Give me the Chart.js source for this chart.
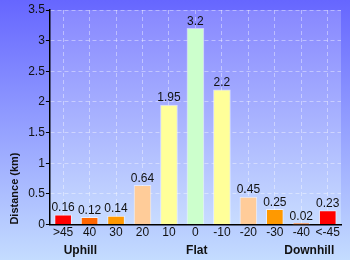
<!DOCTYPE html>
<html>
<head>
<meta charset="utf-8">
<script src="https://cdn.jsdelivr.net/npm/chart.js@4"></script>
<style>
  html, body { margin: 0; padding: 0; background: #fff; }
  #wrap { width: 350px; height: 260px; }
</style>
</head>
<body>
<div id="wrap"><canvas id="gradeChart"></canvas></div>
<script>
// gradient categories (percent) and distance per category
const grades = [">45", "40", "30", "20", "10", "0", "-10", "-20", "-30", "-40", "<-45"];
const distances = [0.16, 0.12, 0.14, 0.64, 1.95, 3.2, 2.2, 0.45, 0.25, 0.02, 0.23];
const barColors = ["#ff0000", "#ff6600", "#ff9900", "#ffcc99", "#ffff99", "#ccffcc",
                   "#ffff99", "#ffcc99", "#ff9900", "#ff6600", "#ff0000"];
const groupNames = ["Uphill", "Flat", "Downhill"];
const groupAt = [0.65, 5.05, 9.3];

// page + plot backgrounds
const backdrop = {
  id: "backdrop",
  beforeDraw(chart) {
    const { ctx, width, height, chartArea: a } = chart;
    ctx.save();
    let g = ctx.createLinearGradient(0, 0, 0, height);
    g.addColorStop(0, "#6666ff");
    g.addColorStop(1, "#c4dcff");
    ctx.fillStyle = g;
    ctx.fillRect(0, 0, width, height);
    g = ctx.createLinearGradient(0, a.top, 0, a.bottom);
    g.addColorStop(0, "#8888ff");
    g.addColorStop(1, "#c8dcff");
    ctx.fillStyle = g;
    ctx.fillRect(a.left, a.top, a.right - a.left, a.bottom - a.top);
    ctx.restore();
  }
};

// value over each bar + group names under the axis
const labels = {
  id: "labels",
  afterDatasetsDraw(chart) {
    const { ctx } = chart;
    const meta = chart.getDatasetMeta(0);
    ctx.save();
    ctx.fillStyle = "#111";
    ctx.font = "12px 'Liberation Sans', Arial, sans-serif";
    ctx.textAlign = "center";
    ctx.textBaseline = "bottom";
    meta.data.forEach((bar, i) => {
      ctx.fillText(String(distances[i]), bar.x, bar.y - 1);
    });
    const x = chart.scales.x;
    ctx.font = "bold 12px 'Liberation Sans', Arial, sans-serif";
    ctx.textBaseline = "middle";
    groupNames.forEach((name, i) => {
      ctx.fillText(name, x.getPixelForValue(groupAt[i]), x.bottom + 10);
    });
    ctx.restore();
  }
};

new Chart(document.getElementById("gradeChart"), {
  type: "bar",
  data: {
    labels: grades,
    datasets: [{
      data: distances,
      backgroundColor: barColors,
      borderColor: "rgba(255,255,255,0.55)",
      borderWidth: 1,
      borderSkipped: "bottom",
      barThickness: 17
    }]
  },
  options: {
    responsive: true,
    maintainAspectRatio: false,
    animation: false,
    layout: { padding: { top: 10, right: 9, bottom: 19, left: 8 } },
    plugins: { legend: { display: false }, tooltip: { enabled: false } },
    scales: {
      x: {
        grid: {
          offset: false,
          color: "rgba(255,255,255,0.4)",
          drawTicks: false
        },
        border: { color: "#000", width: 1.5, dash: [4, 3] },
        ticks: {
          color: "#111",
          padding: 1,
          maxRotation: 0,
          minRotation: 0,
          autoSkip: false,
          font: { size: 12, family: "'Liberation Sans', Arial, sans-serif" }
        }
      },
      y: {
        min: 0,
        max: 3.5,
        grid: {
          color: c => (Math.round(c.tick.value * 4) % 2 === 0 ? "rgba(255,255,255,0.4)" : "rgba(0,0,0,0)"),
          tickColor: c => (Math.round(c.tick.value * 4) % 2 === 0 ? "#000" : "#ff0000"),
          tickLength: 4
        },
        border: { color: "#000", width: 1.5, dash: [4, 3] },
        ticks: {
          stepSize: 0.25,
          color: "#111",
          padding: 1,
          font: { size: 12, family: "'Liberation Sans', Arial, sans-serif" },
          callback: v => (Math.round(v * 4) % 2 === 0 ? String(v) : "")
        },
        title: {
          display: true,
          text: "Distance (km)",
          align: "start",
          color: "#111",
          padding: { top: 0, bottom: 6 },
          font: { size: 11, weight: "bold", family: "'Liberation Sans', Arial, sans-serif" }
        }
      }
    }
  },
  plugins: [backdrop, labels]
});
</script>
</body>
</html>
